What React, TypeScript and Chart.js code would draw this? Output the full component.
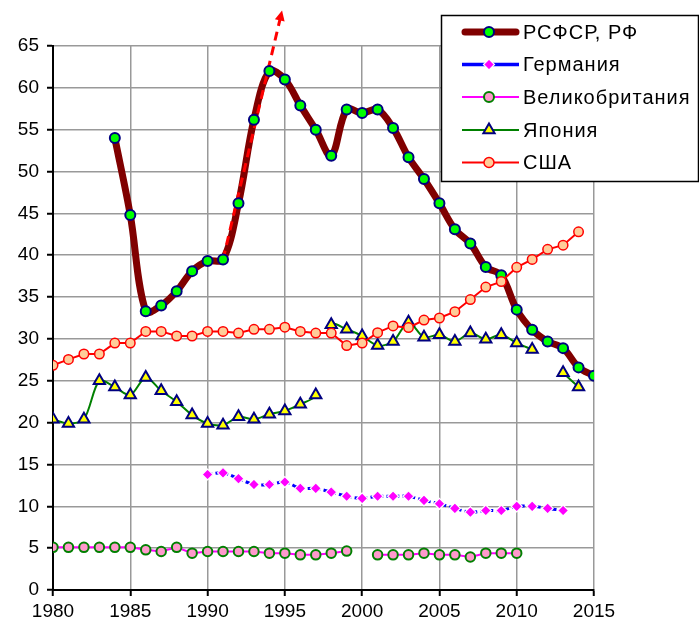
import React, { useEffect, useRef } from 'react';
import { Chart, registerables } from 'chart.js';
import { drawPoint } from 'chart.js/helpers';

Chart.register(...registerables);

// ---- Data ----
const xTicksMin = 1980;
const xTicksMax = 2015;
const yTicksMin = 0;
const yTicksMax = 65;

const seriesNames = ['РСФСР, РФ', 'Германия', 'Великобритания', 'Япония', 'США'];

const rsfsrStart = 1984;
const rsfsrValues = [54.0, 44.8, 33.3, 34.0, 35.7, 38.1, 39.3, 39.5, 46.2, 56.2, 62.0, 61.0, 57.9, 55.0, 51.9, 57.4,
  57.0, 57.4, 55.2, 51.7, 49.1, 46.2, 43.1, 41.4, 38.6, 37.6, 33.5, 31.1, 29.7, 28.9, 26.6, 25.6];

const germanyStart = 1990;
const germanyValues = [13.8, 14.0, 13.3, 12.6, 12.6, 12.9, 12.15, 12.15, 11.7, 11.2, 10.95, 11.2, 11.2, 11.2, 10.7,
  10.3, 9.75, 9.3, 9.5, 9.5, 10.0, 10.0, 9.75, 9.5];

const ukStart = 1980;
const ukValues = [5.1, 5.1, 5.1, 5.1, 5.1, 5.1, 4.8, 4.6, 5.1, 4.4, 4.6, 4.6, 4.6, 4.6, 4.4, 4.4, 4.2, 4.2, 4.4, 4.65,
  null, 4.2, 4.2, 4.2, 4.4, 4.2, 4.2, 3.95, 4.4, 4.4, 4.4];

const japanStart = 1980;
const japanValues = [20.4, 19.9, 20.4, 25.0, 24.25, 23.3, 25.4, 23.8, 22.5, 20.9, 19.9, 19.7, 20.7, 20.4, 21.0, 21.4,
  22.2, 23.3, 31.7, 31.15, 30.35, 29.2, 29.7, 32.0, 30.2, 30.5, 29.7, 30.7, 29.95, 30.5, 29.5, 28.75, null, 25.95, 24.25];
const japanBreakAfter = 1997;

const usaStart = 1980;
const usaValues = [26.85, 27.55, 28.2, 28.2, 29.5, 29.5, 30.9, 30.9, 30.35, 30.35, 30.9, 30.9, 30.7, 31.15, 31.15,
  31.4, 30.9, 30.7, 30.7, 29.2, 29.5, 30.75, 31.55, 31.35, 32.25, 32.5, 33.25, 34.7, 36.2, 36.85, 38.55, 39.5, 40.7,
  41.2, 42.8];

const arrowYears = [1991, 1994.7];
const arrowValues = [39.5, 68.3];

const toXY = (start: number, vals: (number | null)[]) => vals.map((v, i) => ({ x: start + i, y: v }));

// ---- Styles ----
const FONT = "'Liberation Sans', Arial, sans-serif";
const MAROON = '#800000';
const NAVY = '#000080';

const legendItems = [
  { line: MAROON, lw: 7, style: 'circle', r: 5, fill: '#00ff00', stroke: NAVY, bw: 2 },
  { line: '#0000ff', lw: 3.5, style: 'rectRot', r: 5.5, fill: '#ff00ff', stroke: '#ffffff', bw: 1.2 },
  { line: '#ff00ff', lw: 2, style: 'circle', r: 5, fill: '#ff99cc', stroke: '#008000', bw: 2 },
  { line: '#008000', lw: 2, style: 'triangle', r: 6.5, fill: '#ffff00', stroke: NAVY, bw: 2 },
  { line: '#ff0000', lw: 2, style: 'circle', r: 5, fill: '#ffcc99', stroke: '#ff0000', bw: 1.5 },
];

const arrowHeadPlugin = {
  id: 'arrowHead',
  afterDatasetsDraw(chart: any) {
    const xs = chart.scales.x, ys = chart.scales.y;
    const x0 = xs.getPixelForValue(arrowYears[0]), y0 = ys.getPixelForValue(arrowValues[0]);
    const x1 = xs.getPixelForValue(arrowYears[1]), y1 = ys.getPixelForValue(arrowValues[1]);
    const len = Math.hypot(x1 - x0, y1 - y0);
    const ux = (x1 - x0) / len, uy = (y1 - y0) / len;
    const px = -uy, py = ux;
    const tipX = x1 + ux * 8, tipY = y1 + uy * 8;
    const bX = x1 - ux * 2, bY = y1 - uy * 2;
    const ctx = chart.ctx as CanvasRenderingContext2D;
    ctx.save();
    ctx.fillStyle = '#ff0000';
    ctx.beginPath();
    ctx.moveTo(tipX, tipY);
    ctx.lineTo(bX + px * 5, bY + py * 5);
    ctx.lineTo(bX - px * 5, bY - py * 5);
    ctx.closePath();
    ctx.fill();
    ctx.restore();
  },
};

const legendPlugin = {
  id: 'boxLegend',
  afterDraw(chart: any) {
    const ctx = chart.ctx as CanvasRenderingContext2D;
    ctx.save();
    const bx = 441, by = 15, bw = 257, bh = 166;
    ctx.fillStyle = '#ffffff';
    ctx.fillRect(bx, by, bw, bh);
    ctx.strokeStyle = '#000000';
    ctx.lineWidth = 1.5;
    ctx.strokeRect(bx + 0.5, by + 0.5, bw, bh);
    const rowY = [32, 64.5, 97, 130, 162.5];
    legendItems.forEach((it, i) => {
      const y = rowY[i];
      ctx.beginPath();
      ctx.strokeStyle = it.line;
      ctx.lineWidth = it.lw;
      ctx.lineCap = i === 0 ? 'round' : 'butt';
      ctx.moveTo(i === 0 ? 465 : 462, y);
      ctx.lineTo(i === 0 ? 516 : 519, y);
      ctx.stroke();
      ctx.fillStyle = it.fill;
      ctx.strokeStyle = it.stroke;
      ctx.lineWidth = it.bw;
      drawPoint(ctx, { pointStyle: it.style as any, rotation: 0, radius: it.r, borderWidth: it.bw }, 489, y);
      ctx.fillStyle = '#000000';
      ctx.font = `20px ${FONT}`;
      (ctx as any).letterSpacing = '1px';
      ctx.textBaseline = 'middle';
      ctx.textAlign = 'left';
      ctx.fillText(seriesNames[i], 523, y + 1);
      (ctx as any).letterSpacing = '0px';
    });
    ctx.restore();
  },
};

export default function App() {
  const ref = useRef<HTMLCanvasElement | null>(null);

  useEffect(() => {
    if (!ref.current) return;
    const chart = new Chart(ref.current, {
      type: 'line',
      data: {
        datasets: [
          {
            label: seriesNames[4],
            data: toXY(usaStart, usaValues),
            borderColor: '#ff0000',
            borderWidth: 2,
            pointStyle: 'circle',
            pointRadius: 4.75,
            pointBackgroundColor: '#ffcc99',
            pointBorderColor: '#ff0000',
            pointBorderWidth: 1.5,
            tension: 0,
            order: 1,
          },
          {
            label: seriesNames[3],
            data: toXY(japanStart, japanValues),
            borderColor: '#008000',
            borderWidth: 2,
            pointStyle: 'triangle',
            pointRadius: 6.5,
            pointBackgroundColor: '#ffff00',
            pointBorderColor: NAVY,
            pointBorderWidth: 2,
            tension: 0.3,
            segment: {
              borderColor: (c: any) => (c.p0.parsed.x === japanBreakAfter ? 'rgba(0,0,0,0)' : undefined),
            },
            order: 2,
          },
          {
            label: seriesNames[2],
            data: toXY(ukStart, ukValues),
            borderColor: '#ff00ff',
            borderWidth: 2,
            pointStyle: 'circle',
            pointRadius: 4.75,
            pointBackgroundColor: '#ff99cc',
            pointBorderColor: '#008000',
            pointBorderWidth: 2,
            tension: 0,
            order: 3,
          },
          {
            label: seriesNames[1],
            data: toXY(germanyStart, germanyValues),
            borderColor: '#0000ff',
            borderWidth: 3,
            borderDash: [5, 3],
            pointStyle: 'rectRot',
            pointRadius: 5.5,
            pointBackgroundColor: '#ff00ff',
            pointBorderColor: '#ffffff',
            pointBorderWidth: 1.2,
            tension: 0.3,
            order: 4,
          },
          {
            label: seriesNames[0] + ' markers',
            data: toXY(rsfsrStart, rsfsrValues),
            showLine: false,
            pointStyle: 'circle',
            pointRadius: 5,
            pointBackgroundColor: '#00ff00',
            pointBorderColor: NAVY,
            pointBorderWidth: 2,
            order: 5,
          },
          {
            label: 'arrow',
            data: arrowYears.map((x, i) => ({ x, y: arrowValues[i] })),
            borderColor: '#ff0000',
            borderWidth: 3,
            borderDash: [9, 6],
            pointRadius: 0,
            tension: 0,
            clip: false as any,
            order: 6,
          },
          {
            label: seriesNames[0],
            data: toXY(rsfsrStart, rsfsrValues),
            borderColor: MAROON,
            borderWidth: 7,
            borderCapStyle: 'round',
            borderJoinStyle: 'round',
            pointRadius: 0,
            tension: 0.35,
            order: 7,
          },
        ] as any,
      },
      options: {
        responsive: false,
        animation: false,
        layout: { padding: { top: 46, right: 105, left: 0, bottom: 0 } },
        plugins: {
          legend: { display: false },
          tooltip: { enabled: false },
        },
        scales: {
          x: {
            type: 'linear',
            min: xTicksMin,
            max: xTicksMax,
            afterFit: (s: any) => { s.height = 36; },
            ticks: {
              stepSize: 5,
              color: '#000000',
              font: { family: FONT, size: 19 },
              padding: 4,
              maxRotation: 0,
              callback: (v: any) => String(v),
            },
            grid: { color: '#999999', lineWidth: 1.5, tickColor: '#000000', tickLength: 6, tickWidth: 2 },
            border: { color: '#000000', width: 2 },
          },
          y: {
            type: 'linear',
            min: yTicksMin,
            max: yTicksMax,
            afterFit: (s: any) => { s.width = 53; },
            ticks: {
              stepSize: 5,
              color: '#000000',
              font: { family: FONT, size: 19 },
              padding: 8,
            },
            grid: { color: '#999999', lineWidth: 1.5, tickColor: '#000000', tickLength: 6, tickWidth: 2 },
            border: { color: '#000000', width: 2 },
          },
        },
      },
      plugins: [arrowHeadPlugin, legendPlugin],
    });
    return () => chart.destroy();
  }, []);

  return (
    <div style={{ position: 'absolute', left: 0, top: 0, width: 699, height: 626, background: '#ffffff' }}>
      <canvas ref={ref} width={699} height={626} style={{ display: 'block' }} />
    </div>
  );
}
